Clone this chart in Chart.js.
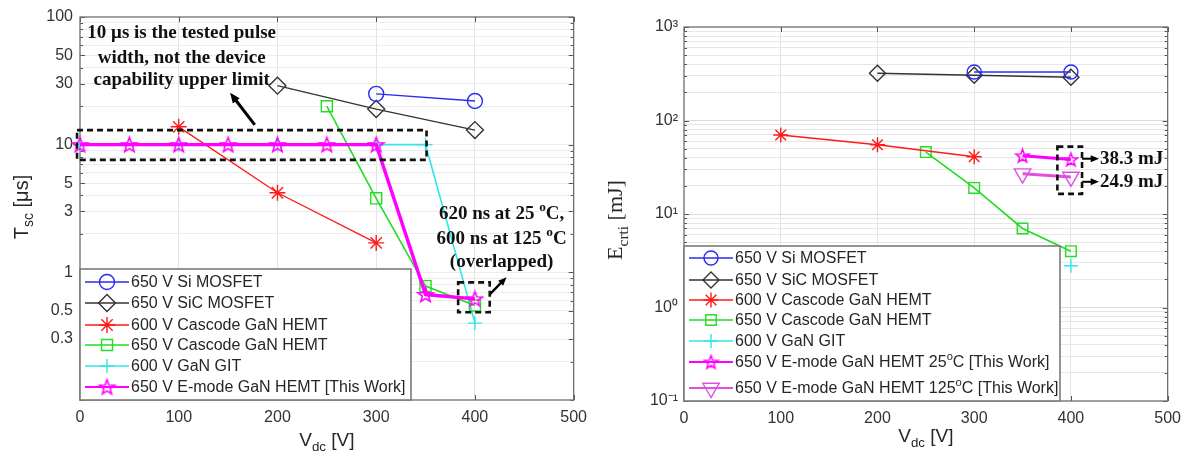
<!DOCTYPE html>
<html>
<head>
<meta charset="utf-8">
<script src="https://cdn.jsdelivr.net/npm/chart.js@4.4.0/dist/chart.umd.min.js"></script>
<style>
  html, body { margin: 0; padding: 0; background: #fff; }
  #wrap { position: relative; width: 1189px; height: 459px; }
  .box { position: absolute; top: 0; height: 459px; }
</style>
</head>
<body>
<div id="wrap">
  <div class="box" style="left:0;width:595px"><canvas id="tscChart"></canvas></div>
  <div class="box" style="left:595px;width:594px"><canvas id="ecritChart"></canvas></div>
</div>
<script>
// ---- left chart: short-circuit withstand time Tsc [us] vs Vdc [V]
const siVdcT = [300, 400];
const siTsc = [25, 22];
const sicVdcT = [200, 300, 400];
const sicTsc = [29, 19, 13];
const casc600VdcT = [100, 200, 300];
const casc600Tsc = [13.8, 4.2, 1.7];
const casc650VdcT = [250, 300, 350, 400];
const casc650Tsc = [20, 3.8, 0.78, 0.55];
const gitVdcT = [0, 100, 200, 300, 350, 400];
const gitTsc = [10, 10, 10, 10, 10, 0.4];
const emodeVdcT = [0, 50, 100, 150, 200, 250, 300, 350, 400];
const emodeTsc = [10, 10, 10, 10, 10, 10, 10, 0.67, 0.62];
const tscTickLabels = [0.3, 0.5, 1, 3, 5, 10, 30, 50, 100];

// ---- right chart: critical energy Ecrit [mJ] vs Vdc [V]
const siVdcE = [300, 400];
const siEcrit = [330, 330];
const sicVdcE = [200, 300, 400];
const sicEcrit = [320, 305, 290];
const casc600VdcE = [100, 200, 300];
const casc600Ecrit = [70, 55, 41];
const casc650VdcE = [250, 300, 350, 400];
const casc650Ecrit = [46, 19, 7, 4];
const gitVdcE = [400];
const gitEcrit = [2.8];
const emode25VdcE = [350, 400];
const emode25Ecrit = [42, 38.3];
const emode125VdcE = [350, 400];
const emode125Ecrit = [27, 24.9];
const ecritTickLabels = { 0.1: '10\u207B\u00B9', 1: '10\u2070', 10: '10\u00B9', 100: '10\u00B2', 1000: '10\u00B3' };

const legendT = ['650 V Si MOSFET', '650 V SiC MOSFET', '600 V Cascode GaN HEMT',
  '650 V Cascode GaN HEMT', '600 V GaN GIT', '650 V E-mode GaN HEMT [This Work]'];
const legendE = ['650 V Si MOSFET', '650 V SiC MOSFET', '600 V Cascode GaN HEMT',
  '650 V Cascode GaN HEMT', '600 V GaN GIT',
  [['650 V E-mode GaN HEMT 25', ''], ['o', 'sup'], ['C [This Work]', '']],
  [['650 V E-mode GaN HEMT 125', ''], ['o', 'sup'], ['C [This Work]', '']]];

const SANS = "'Liberation Sans', Arial, sans-serif";
const SERIF = "'Liberation Serif', 'Times New Roman', serif";
const C = {
  blue: '#2b2bf0', black: '#333333', red: '#ff1a1a', green: '#22dd22',
  cyan: '#33e6e6', magenta: '#ff00ff', pink: '#e050e0'
};

function makeStar(color, size, lw) {
  const c = document.createElement('canvas');
  c.width = size; c.height = size;
  const g = c.getContext('2d');
  const R = size / 2 - lw, r = R * 0.42, cx = size / 2, cy = size / 2 + R * 0.08;
  g.beginPath();
  for (let i = 0; i < 10; i++) {
    const a = -Math.PI / 2 + i * Math.PI / 5;
    const rr = i % 2 ? r : R;
    g.lineTo(cx + rr * Math.cos(a), cy + rr * Math.sin(a));
  }
  g.closePath();
  g.strokeStyle = color; g.lineWidth = lw; g.stroke();
  return c;
}
const starT = makeStar(C.magenta, 19, 1.6);
const starE = makeStar(C.magenta, 17, 1.5);

function pts(xs, ys) { return xs.map((x, i) => ({ x: x, y: ys[i] })); }

function ds(label, xs, ys, color, style, r, lw, extra) {
  return Object.assign({
    label: label, data: pts(xs, ys), borderColor: color, borderWidth: lw,
    pointStyle: style, pointRadius: r, pointBorderColor: color, pointBorderWidth: 1.4,
    pointBackgroundColor: 'rgba(0,0,0,0)', backgroundColor: 'rgba(0,0,0,0)',
    tension: 0, clip: false, order: 1
  }, extra || {});
}

// rich text: parts = [[text, ''|'sup'|'sub'], ...]
function richWidth(ctx, parts, size, family, weight) {
  let w = 0;
  parts.forEach(p => {
    const s = p[1] ? size * 0.7 : size;
    ctx.font = weight + ' ' + s + 'px ' + family;
    w += ctx.measureText(p[0]).width;
  });
  return w;
}
function drawRich(ctx, parts, x, y, size, family, weight, align, color) {
  if (typeof parts === 'string') parts = [[parts, '']];
  const w = richWidth(ctx, parts, size, family, weight);
  let cx = align === 'center' ? x - w / 2 : x;
  ctx.fillStyle = color || '#222';
  ctx.textBaseline = 'middle';
  ctx.textAlign = 'left';
  parts.forEach(p => {
    const s = p[1] ? size * 0.7 : size;
    ctx.font = weight + ' ' + s + 'px ' + family;
    let dy = 0;
    if (p[1] === 'sup') dy = -size * 0.38;
    if (p[1] === 'sub') dy = size * 0.35;
    ctx.fillText(p[0], cx, y + dy);
    cx += ctx.measureText(p[0]).width;
  });
}

function drawArrow(ctx, x1, y1, x2, y2, lw, head) {
  const a = Math.atan2(y2 - y1, x2 - x1);
  ctx.strokeStyle = '#000'; ctx.fillStyle = '#000';
  ctx.lineWidth = lw; ctx.setLineDash([]);
  ctx.beginPath();
  ctx.moveTo(x1, y1);
  ctx.lineTo(x2 - Math.cos(a) * head * 0.8, y2 - Math.sin(a) * head * 0.8);
  ctx.stroke();
  ctx.beginPath();
  ctx.moveTo(x2, y2);
  ctx.lineTo(x2 - head * Math.cos(a - 0.4), y2 - head * Math.sin(a - 0.4));
  ctx.lineTo(x2 - head * Math.cos(a + 0.4), y2 - head * Math.sin(a + 0.4));
  ctx.closePath();
  ctx.fill();
}

function dashedBox(ctx, x1, y1, x2, y2) {
  ctx.save();
  ctx.strokeStyle = '#111'; ctx.lineWidth = 2.6; ctx.setLineDash([6, 4]);
  ctx.strokeRect(x1, y1, x2 - x1, y2 - y1);
  ctx.restore();
}

// legend marker drawn like Chart.js point styles
function legendMarker(ctx, style, x, y, r, color, rot) {
  ctx.save();
  ctx.strokeStyle = color; ctx.lineWidth = 1.4; ctx.setLineDash([]);
  if (style instanceof HTMLCanvasElement) {
    ctx.drawImage(style, x - style.width / 2, y - style.height / 2);
    ctx.restore();
    return;
  }
  ctx.beginPath();
  if (style === 'circle') {
    ctx.arc(x, y, r, 0, Math.PI * 2);
  } else if (style === 'rectRot') {
    ctx.moveTo(x - r, y); ctx.lineTo(x, y - r); ctx.lineTo(x + r, y); ctx.lineTo(x, y + r); ctx.closePath();
  } else if (style === 'rect') {
    const s = Math.SQRT1_2 * r;
    ctx.rect(x - s, y - s, 2 * s, 2 * s);
  } else if (style === 'cross') {
    ctx.moveTo(x - r, y); ctx.lineTo(x + r, y); ctx.moveTo(x, y - r); ctx.lineTo(x, y + r);
  } else if (style === 'star') {
    ctx.moveTo(x - r, y); ctx.lineTo(x + r, y); ctx.moveTo(x, y - r); ctx.lineTo(x, y + r);
    const d = r * Math.SQRT1_2;
    ctx.moveTo(x - d, y - d); ctx.lineTo(x + d, y + d); ctx.moveTo(x + d, y - d); ctx.lineTo(x - d, y + d);
  } else if (style === 'triangle') {
    let a = (rot || 0) * Math.PI / 180;
    for (let i = 0; i < 3; i++) {
      ctx.lineTo(x + Math.sin(a) * r, y - Math.cos(a) * r);
      a += 2 * Math.PI / 3;
    }
    ctx.closePath();
  }
  ctx.stroke();
  ctx.restore();
}

// per-chart decoration (kept outside chart options so functions are not resolved as scriptables)
const decor = {
  tscChart: {
    xTitle: [['V', ''], ['dc', 'sub'], [' [V]', '']], xTitleY: 441,
    yTitle: [['T', ''], ['sc', 'sub'], [' [\u03BCs]', '']], yTitleX: 22, yTitleY: 207,
    yTitleSize: 20, yTitleFont: SANS,
    legend: { w: 331, h: 131, rows: [13, 34, 56, 76, 97, 118], labels: legendT },
    annotate: (ctx, px, py) => {
      const f = 19;
      drawRich(ctx, '10 \u03BCs is the tested pulse', px(103), py(75), f, SERIF, 'bold', 'center', '#111');
      drawRich(ctx, 'width, not the device', px(103), py(48), f, SERIF, 'bold', 'center', '#111');
      drawRich(ctx, 'capability upper limit', px(103), py(32), f, SERIF, 'bold', 'center', '#111');
      drawArrow(ctx, px(177), py(14.3), px(152), py(25.5), 3, 11);
      dashedBox(ctx, px(-3), py(13), px(351), py(7.6));
      drawRich(ctx, [['620 ns at 25 ', ''], ['o', 'sup'], ['C,', '']], px(427), py(2.84), f, SERIF, 'bold', 'center', '#111');
      drawRich(ctx, [['600 ns at 125 ', ''], ['o', 'sup'], ['C', '']], px(427), py(1.81), f, SERIF, 'bold', 'center', '#111');
      drawRich(ctx, '(overlapped)', px(427), py(1.2), f, SERIF, 'bold', 'center', '#111');
      dashedBox(ctx, px(383), py(0.835), px(415), py(0.487));
      drawArrow(ctx, px(415), py(0.673), px(432), py(0.914), 2.4, 9);
    }
  },
  ecritChart: {
    xTitle: [['V', ''], ['dc', 'sub'], [' [V]', '']], xTitleY: 437,
    yTitle: [['E', ''], ['crti', 'sub'], [' [mJ]', '']], yTitleX: 21, yTitleY: 220,
    yTitleSize: 22, yTitleFont: SERIF,
    legend: { w: 376, h: 155, rows: [12, 34, 54, 74, 95, 116, 142], labels: legendE },
    annotate: (ctx, px, py) => {
      const f = 19;
      dashedBox(ctx, px(386), py(52.6), px(411.5), py(16.4));
      drawArrow(ctx, px(411.5), py(39), px(429), py(39), 2, 9);
      drawArrow(ctx, px(411.5), py(22.1), px(429), py(22.1), 2, 9);
      drawRich(ctx, '38.3 mJ', px(430), py(39), f, SERIF, 'bold', 'left', '#111');
      drawRich(ctx, '24.9 mJ', px(430), py(22.1), f, SERIF, 'bold', 'left', '#111');
    }
  }
};

const decorPlugin = {
  id: 'decor',
  beforeDatasetsDraw(chart) {
    const ctx = chart.ctx, a = chart.chartArea;
    ctx.save();
    // inward tick marks on all four sides (box style)
    ctx.strokeStyle = '#555'; ctx.lineWidth = 1;
    const ys = chart.scales.y, xs = chart.scales.x;
    ys.ticks.forEach(t => {
      const p = Math.round(ys.getPixelForValue(t.value)) + 0.5;
      const len = t.label ? 5 : 3;
      ctx.beginPath();
      ctx.moveTo(a.left, p); ctx.lineTo(a.left + len, p);
      ctx.moveTo(a.right, p); ctx.lineTo(a.right - len, p);
      ctx.stroke();
    });
    xs.ticks.forEach(t => {
      const p = Math.round(xs.getPixelForValue(t.value)) + 0.5;
      ctx.beginPath();
      ctx.moveTo(p, a.bottom); ctx.lineTo(p, a.bottom - 5);
      ctx.moveTo(p, a.top); ctx.lineTo(p, a.top + 5);
      ctx.stroke();
    });
    ctx.strokeStyle = '#6e6e6e'; ctx.lineWidth = 1.3;
    ctx.strokeRect(a.left, a.top, a.right - a.left, a.bottom - a.top);
    ctx.restore();
  },
  afterDraw(chart) {
    const ctx = chart.ctx, a = chart.chartArea;
    const cfg = decor[chart.canvas.id];
    const px = v => chart.scales.x.getPixelForValue(v);
    const py = v => chart.scales.y.getPixelForValue(v);
    ctx.save();

    // axis titles
    drawRich(ctx, cfg.xTitle, (a.left + a.right) / 2, cfg.xTitleY, 19, SANS, 'normal', 'center', '#262626');
    ctx.save();
    ctx.translate(cfg.yTitleX, cfg.yTitleY);
    ctx.rotate(-Math.PI / 2);
    drawRich(ctx, cfg.yTitle, 0, 0, cfg.yTitleSize, cfg.yTitleFont, 'normal', 'center', '#262626');
    ctx.restore();

    // legend box
    const L = cfg.legend;
    const bx = a.left, by = a.bottom - L.h;
    ctx.fillStyle = '#fff';
    ctx.fillRect(bx, by, L.w, L.h);
    ctx.strokeStyle = '#7a7a7a'; ctx.lineWidth = 1.6;
    ctx.strokeRect(bx, by, L.w, L.h);
    chart.data.datasets.forEach((d, i) => {
      const y = by + L.rows[i];
      ctx.strokeStyle = d.borderColor; ctx.lineWidth = Math.min(d.borderWidth, 2);
      ctx.beginPath(); ctx.moveTo(bx + 5, y); ctx.lineTo(bx + 49, y); ctx.stroke();
      legendMarker(ctx, d.pointStyle, bx + 27, y, d.pointRadius, d.borderColor, d.pointRotation);
      drawRich(ctx, L.labels[i], bx + 51, y + 1, 16, SANS, 'normal', 'left', '#262626');
    });

    // annotations
    cfg.annotate(ctx, px, py);
    ctx.restore();
  }
};

function baseOptions(opts) {
  return {
    responsive: true,
    maintainAspectRatio: false,
    animation: false,
    events: [],
    layout: { padding: opts.padding },
    plugins: { legend: { display: false }, tooltip: { enabled: false } },
    scales: {
      x: {
        type: 'linear', min: 0, max: 500,
        ticks: { stepSize: 100, color: '#333', font: { size: 16, family: SANS }, padding: 8, maxRotation: 0 },
        grid: { color: c => (c.tick.value > 0 && c.tick.value < 500 ? '#e3e3e3' : 'rgba(0,0,0,0)'), drawTicks: false },
        border: { display: false },
        afterFit: s => { s.height = opts.xHeight; }
      },
      y: {
        type: 'logarithmic', min: opts.yMin, max: opts.yMax,
        afterBuildTicks: s => {
          const t = [];
          for (let e = Math.log10(opts.yMin); e < Math.log10(opts.yMax); e++) {
            for (let m = 1; m < 10; m++) t.push({ value: +(m * Math.pow(10, e)).toPrecision(3) });
          }
          t.push({ value: opts.yMax });
          s.ticks = t;
        },
        ticks: {
          autoSkip: false, color: '#333', font: { size: 16, family: SANS }, padding: opts.yPad,
          callback: opts.yLabel
        },
        grid: { color: opts.yGrid, drawTicks: false },
        border: { display: false },
        afterFit: s => { s.width = opts.yWidth; }
      }
    }
  };
}

// ---------- left chart
new Chart(document.getElementById('tscChart'), {
  type: 'line',
  plugins: [decorPlugin],
  data: {
    datasets: [
      ds('650 V Si MOSFET', siVdcT, siTsc, C.blue, 'circle', 7.5, 1.4),
      ds('650 V SiC MOSFET', sicVdcT, sicTsc, C.black, 'rectRot', 8.5, 1.4),
      ds('600 V Cascode GaN HEMT', casc600VdcT, casc600Tsc, C.red, 'star', 8, 1.4),
      ds('650 V Cascode GaN HEMT', casc650VdcT, casc650Tsc, C.green, 'rect', 7.8, 1.6),
      ds('600 V GaN GIT', gitVdcT, gitTsc, C.cyan, 'cross', 7, 1.6),
      ds('650 V E-mode GaN HEMT [This Work]', emodeVdcT, emodeTsc, C.magenta, starT, 9, 3.4, { order: 0 })
    ]
  },
  options: baseOptions({
    padding: { left: 0, top: 17, right: 15, bottom: 0 },
    xHeight: 59, yWidth: 80, yPad: 7, yMin: 0.1, yMax: 100,
    yLabel: v => (tscTickLabels.indexOf(v) >= 0 ? String(v) : ''),
    yGrid: c => (c.tick.value <= 0.1 || c.tick.value >= 100 ? 'rgba(0,0,0,0)' : '#ececec')
  })
});

// ---------- right chart
new Chart(document.getElementById('ecritChart'), {
  type: 'line',
  plugins: [decorPlugin],
  data: {
    datasets: [
      ds('650 V Si MOSFET', siVdcE, siEcrit, C.blue, 'circle', 7, 1.4),
      ds('650 V SiC MOSFET', sicVdcE, sicEcrit, C.black, 'rectRot', 8, 1.4),
      ds('600 V Cascode GaN HEMT', casc600VdcE, casc600Ecrit, C.red, 'star', 7.5, 1.4),
      ds('650 V Cascode GaN HEMT', casc650VdcE, casc650Ecrit, C.green, 'rect', 7.5, 1.6),
      ds('600 V GaN GIT', gitVdcE, gitEcrit, C.cyan, 'cross', 7, 1.6),
      ds('650 V E-mode GaN HEMT 25\u00B0C [This Work]', emode25VdcE, emode25Ecrit, C.magenta, starE, 8, 3, { order: 0 }),
      ds('650 V E-mode GaN HEMT 125\u00B0C [This Work]', emode125VdcE, emode125Ecrit, C.pink, 'triangle', 9.5, 3, { order: 0, pointRotation: 180 })
    ]
  },
  options: baseOptions({
    padding: { left: 0, top: 27, right: 19, bottom: 0 },
    xHeight: 58, yWidth: 89, yPad: 6, yMin: 0.1, yMax: 1000,
    yLabel: v => (ecritTickLabels[v] || ''),
    yGrid: c => (c.tick.value <= 0.1 || c.tick.value >= 1000 ? 'rgba(0,0,0,0)' : (ecritTickLabels[c.tick.value] ? '#dcdcdc' : '#e6e6e6'))
  })
});
</script>
</body>
</html>
